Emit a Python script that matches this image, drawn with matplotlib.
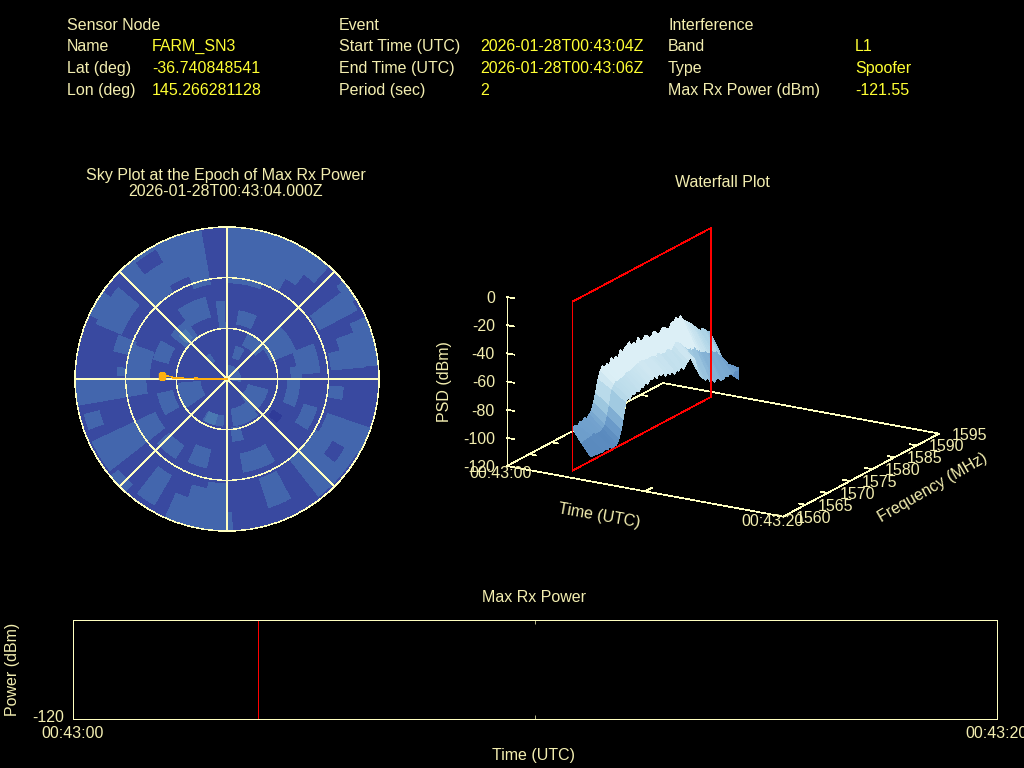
import numpy as np
import matplotlib
matplotlib.use('Agg')
import matplotlib.pyplot as plt
from matplotlib.colors import LinearSegmentedColormap
from matplotlib.transforms import IdentityTransform
from mpl_toolkits.mplot3d import proj3d

plt.rcParams['font.family'] = ['Liberation Sans', 'DejaVu Sans']
plt.rcParams['lines.antialiased'] = False

sensor_labels = ['Sensor Node', 'Name', 'Lat (deg)', 'Lon (deg)']
sensor_values = ['', 'FARM_SN3', '-36.740848541', '145.266281128']
event_labels = ['Event', 'Start Time (UTC)', 'End Time (UTC)', 'Period (sec)']
event_values = ['', '2026-01-28T00:43:04Z', '2026-01-28T00:43:06Z', '2']
interf_labels = ['Interference', 'Band', 'Type', 'Max Rx Power (dBm)']
interf_values = ['', 'L1', 'Spoofer', '-121.55']

# sky map cells: az start, az end, radius start, radius end (radius = 90 - elevation)
sky_light = [
    (0, 20, 57, 90), (20, 30, 61, 90), (30, 36, 69, 90), (36, 42, 77, 90),
    (340, 350, 57, 90), (328, 340, 65, 90), (315, 328, 61, 90),
    (53, 62, 62, 87), (50, 58, 85, 90), (66, 70, 80, 90), (70, 76, 69, 90),
    (76, 85, 62, 90), (94, 100, 61, 69), (108, 122, 48, 56), (109, 120, 63, 90),
    (120, 128, 61, 72), (128, 142, 60, 88), (120, 130, 81, 88),
    (152, 162, 62, 80), (150, 170, 45, 56), (180, 190, 62, 90), (190, 198, 66, 90),
    (198, 204, 74, 90), (178, 180, 79, 90), (193, 205, 43, 54), (213, 227, 47, 56),
    (210, 218, 66, 86), (222, 230, 84, 90), (232, 245, 47, 88), (250, 256, 78, 87),
    (260, 270, 48, 90), (271, 290, 46, 60), (272, 276, 60, 65), (284, 292, 58, 69),
    (285, 300, 36, 45), (293, 310, 68, 84), (295, 305, 84, 90), (308, 325, 30, 42),
    (325, 345, 38, 50), (352, 358, 30, 46), (318, 325, 13, 18), (15, 30, 13, 20),
    (10, 25, 33, 41), (25, 50, 22, 29), (45, 68, 28, 44), (68, 86, 42, 55),
    (80, 90, 38, 44), (90, 112, 36, 43), (105, 140, 13, 25), (0, 100, 0, 8),
    (140, 172, 18, 28), (165, 175, 29, 37), (185, 210, 22, 28), (235, 265, 16, 29),
    (240, 258, 33, 42),
]
sky_dark = [(322, 331, 79, 87), (85, 90, 83, 88)]
sky_spot_dark = [(124, 131, 33, 39)]
sky_spot_light = [(195, 208, 22, 28), (312, 320, 32, 38)]

track_thin_az = [272.6, 272.6, 271.0, 270.6, 270.0]
track_thin_r = [38.5, 33.0, 32.0, 19.0, 0.0]
track_thick_az = [270.6, 270.4]
track_thick_r = [19.0, 6.0]
peak_az = [272.6]
peak_r = [38.5]

freq_back = [1562.3] + list(np.arange(1563, 1593.5, 0.5)) + [1593.4, 1593.4]
freq_front = [1560.2] + list(np.arange(1563, 1593.5, 0.5)) + [1593.4, 1593.4]
psd_t4 = [-90, -89, -90, -88, -89.5, -87, -88.5, -86.5, -85, -80, -73, -65, -60,
          -56.5, -59, -57, -59.5, -54.5, -57, -55, -57.5, -52, -55, -53, -51.5,
          -50, -53, -52, -54, -50.5, -53, -54, -51.5, -52, -55, -54.5, -52, -53,
          -55.5, -55, -52.5, -53, -55, -55.5, -52, -52.5, -50.5, -53, -50.5, -54,
          -56, -57.5, -59, -61, -63, -65, -67, -69, -68, -70, -72, -73, -76, -78]
psd_t5 = [-97, -96, -96, -95, -96, -96, -96, -95, -93, -88, -80, -71, -68, -66, -67,
          -66, -66, -65, -64, -64, -64, -63, -62, -62, -61, -61.5, -62, -62, -62,
          -62, -63, -64, -62, -64, -64, -65, -63, -64, -65, -63.5, -61, -62.5, -64,
          -67, -68, -70, -70, -72, -71, -74, -75, -77, -78, -78, -80, -81, -81, -83,
          -83, -86, -88, -93, -94, -99]
psd_t6 = [-103, -104, -103, -104.5, -103, -105, -104, -104.5, -101, -96, -88, -78, -75,
          -77, -74, -75.5, -73, -75, -72.5, -73.5, -71, -73, -70, -71.5, -69.5, -72.5,
          -70, -72, -70, -74, -72, -74.5, -71.5, -76, -74, -75.5, -73, -76, -73.5, -72,
          -70, -72, -73, -79, -85, -88, -90, -92, -91, -95, -94, -97, -95, -96, -98,
          -98, -96.5, -98, -96, -98, -96.5, -97, -96, -104]
surf_times = [4, 5, 6]

plane_time = 4
plane_freq = [1562.3, 1593.4]
psd_ticks = [0, -20, -40, -60, -80, -100, -120]
freq_ticks = [1560, 1565, 1570, 1575, 1580, 1585, 1590, 1595]
time_ticks = [0, 10, 20]
time_labels = ['00:43:00', '', '00:43:20']

max_power_event = 4

TEXT = '#f3eeb0'
VALUE = '#ffff33'
LINE = '#ffffc0'
RED = '#ff0000'
TRACK = '#ffb010'
FS = 11.5
LW = 0.5


def ptext(x, y, s, color=TEXT, ha='left', rotation=0):
    fig.text(x / 1024, 1 - y / 768, s, color=color, ha=ha, va='baseline',
             fontsize=FS, rotation=rotation, rotation_mode='anchor')


def header(x_label, x_value, labels, values):
    for y, lab, val in zip([30, 51, 73, 95], labels, values):
        ptext(x_label, y, lab)
        ptext(x_value, y, val, color=VALUE)


def sky_cells(ax, cells, color, zorder):
    for a0, a1, r0, r1 in cells:
        ax.bar(np.radians((a0 + a1) / 2), r1 - r0, width=np.radians(a1 - a0), bottom=r0,
               color=color, linewidth=0, antialiased=False, zorder=zorder)


def draw_sky():
    ax = fig.add_axes([75 / 1024, 1 - 531 / 768, 304 / 1024, 304 / 768],
                      projection='polar', facecolor='#3949a0')
    ax.set_theta_zero_location('N')
    ax.set_theta_direction(-1)
    sky_cells(ax, sky_light, '#4366ad', 1)
    sky_cells(ax, sky_dark, '#3949a0', 1.5)
    sky_cells(ax, sky_spot_dark, '#2f3b98', 1.5)
    sky_cells(ax, sky_spot_light, '#4a78b2', 1.5)
    ax.set_ylim(0, 90)
    ax.set_rticks([30, 60])
    ax.set_thetagrids(np.arange(0, 360, 45), labels=[''] * 8)
    ax.set_yticklabels([])
    ax.set_axisbelow(False)
    ax.grid(color=LINE, lw=0.3)
    ax.spines['polar'].set_color(LINE)
    ax.spines['polar'].set_linewidth(0.3)
    ax.spines['polar'].set_antialiased(False)
    ax.plot(np.radians(track_thin_az), track_thin_r, color=TRACK, lw=LW, zorder=5)
    ax.plot(np.radians(track_thick_az), track_thick_r, color=TRACK, lw=1.0, zorder=5)
    ax.plot(np.radians(peak_az), peak_r, 's', color=TRACK, ms=4.2, zorder=6)
    ptext(225.5, 180, 'Sky Plot at the Epoch of Max Rx Power', ha='center')
    ptext(225.5, 196, '2026-01-28T00:43:04.000Z', ha='center')


def draw_waterfall():
    ax = fig.add_axes([0.2, 0.0, 0.75, 1.0], projection='3d',
                      proj_type='ortho', computed_zorder=False)
    ax.set_axis_off()
    ax.patch.set_alpha(0)
    ax.view_init(elev=18.2, azim=-59.6)
    ax.set_xlim(0, 20, view_margin=0)
    ax.set_ylim(1560, 1595, view_margin=0)
    ax.set_zlim(-120, 0, view_margin=0)
    aspect = (320, 308, 177.8)

    def to_px(t, f, z):
        x, y, _ = proj3d.proj_transform(t, f, z, ax.get_proj())
        dx, dy = ax.transData.transform((x, y))
        return dx, 768 - dy

    # scale and shift so the corner of the box lands where it should
    ax.set_box_aspect(aspect, zoom=1)
    ax.apply_aspect()
    height = to_px(0, 1560, -120)[1] - to_px(0, 1560, 0)[1]
    ax.set_box_aspect(aspect, zoom=169 / height)
    ax.apply_aspect()
    x0, y0 = to_px(0, 1560, -120)
    pos = ax.get_position()
    ax.set_position([pos.x0 + (507 - x0) / 1024, pos.y0 - (466 - y0) / 768,
                     pos.width, pos.height])
    ax.apply_aspect()

    def line(ts, fs, zs, color=LINE, lw=LW, zorder=1):
        ax.plot(ts, fs, zs, color=color, lw=lw, zorder=zorder)

    # box
    line([0, 20, 20, 0, 0], [1560, 1560, 1595, 1595, 1560], [-120] * 5)
    line([0, 0], [1560, 1560], [-120, 0])
    for z in psd_ticks:
        line([0, 0.55], [1560, 1560], [z, z])
    for f in freq_ticks[1:-1]:
        line([0, 0.5], [f, f], [-120, -120])
        line([20, 19.5], [f, f], [-120, -120])
    for t in time_ticks[1:-1]:
        line([t, t], [1560, 1561.5], [-120, -120])

    # surface
    blues = LinearSegmentedColormap.from_list(
        'psd', ['#4474b0', '#6f9fcc', '#a8d0e4', '#dceff6'])
    tt = np.array([[t] * len(freq_back) for t in surf_times], dtype=float)
    ff = np.array([freq_back, [(a + b) / 2 for a, b in zip(freq_back, freq_front)], freq_front],
                  dtype=float)
    zz = np.array([psd_t4, psd_t5, psd_t6], dtype=float)
    ax.plot_surface(tt, ff, zz, cmap=blues, vmin=-108, vmax=-62, rstride=1, cstride=1,
                    linewidth=0, antialiased=False, shade=False, zorder=2)

    # event plane
    f0, f1 = plane_freq
    line([plane_time] * 5, [f0, f1, f1, f0, f0], [-120, -120, 0, 0, -120],
         color=RED, lw=LW, zorder=3)

    def label(t, f, z, s, dx, dy, ha='center'):
        x, y = to_px(t, f, z)
        fig.text(x + dx, 768 - (y + dy), s, color=TEXT, fontsize=FS, ha=ha, va='baseline',
                 transform=IdentityTransform(), zorder=10)

    for z in psd_ticks:
        label(0, 1560, z, str(z), -12, 6, ha='right')
    for f in freq_ticks:
        label(20, f, -120, str(f), 30, 6)
    label(0, 1560, -120, time_labels[0], -6, 12)
    label(20, 1560, -120, time_labels[2], -11, 9)

    ptext(722, 187, 'Waterfall Plot', ha='center')
    ptext(449, 382, 'PSD (dBm)', ha='center', rotation=90)
    ptext(598, 520, 'Time (UTC)', ha='center', rotation=-10)
    ptext(935, 492, 'Frequency (MHz)', ha='center', rotation=30)


def draw_power():
    ax = fig.add_axes([73 / 1024, 1 - 719 / 768, 924 / 1024, 99 / 768], facecolor='black')
    ax.set_xlim(0, 20)
    ax.set_ylim(-120, -100)
    ax.axvline(max_power_event, color=RED, lw=LW)
    for s in ax.spines.values():
        s.set_color(LINE)
        s.set_linewidth(LW)
        s.set_antialiased(False)
    ax.set_xticks(time_ticks, time_labels)
    ax.set_yticks([])
    ax.tick_params(axis='x', direction='in', length=3, width=LW, color=LINE, labelcolor=TEXT,
                   labelsize=FS, top=True, pad=5)
    ptext(64, 722, '-120', ha='right')
    ptext(533.5, 602, 'Max Rx Power', ha='center')
    ptext(533.5, 760, 'Time (UTC)', ha='center')
    ptext(17, 669, 'Power (dBm)', ha='center', rotation=90)


fig = plt.figure(figsize=(10.24, 7.68), dpi=100, facecolor='black')
header(67, 152, sensor_labels, sensor_values)
header(339, 480, event_labels, event_values)
header(668, 855, interf_labels, interf_values)
draw_sky()
draw_waterfall()
draw_power()
fig.savefig('out.png', dpi=100, facecolor='black')
